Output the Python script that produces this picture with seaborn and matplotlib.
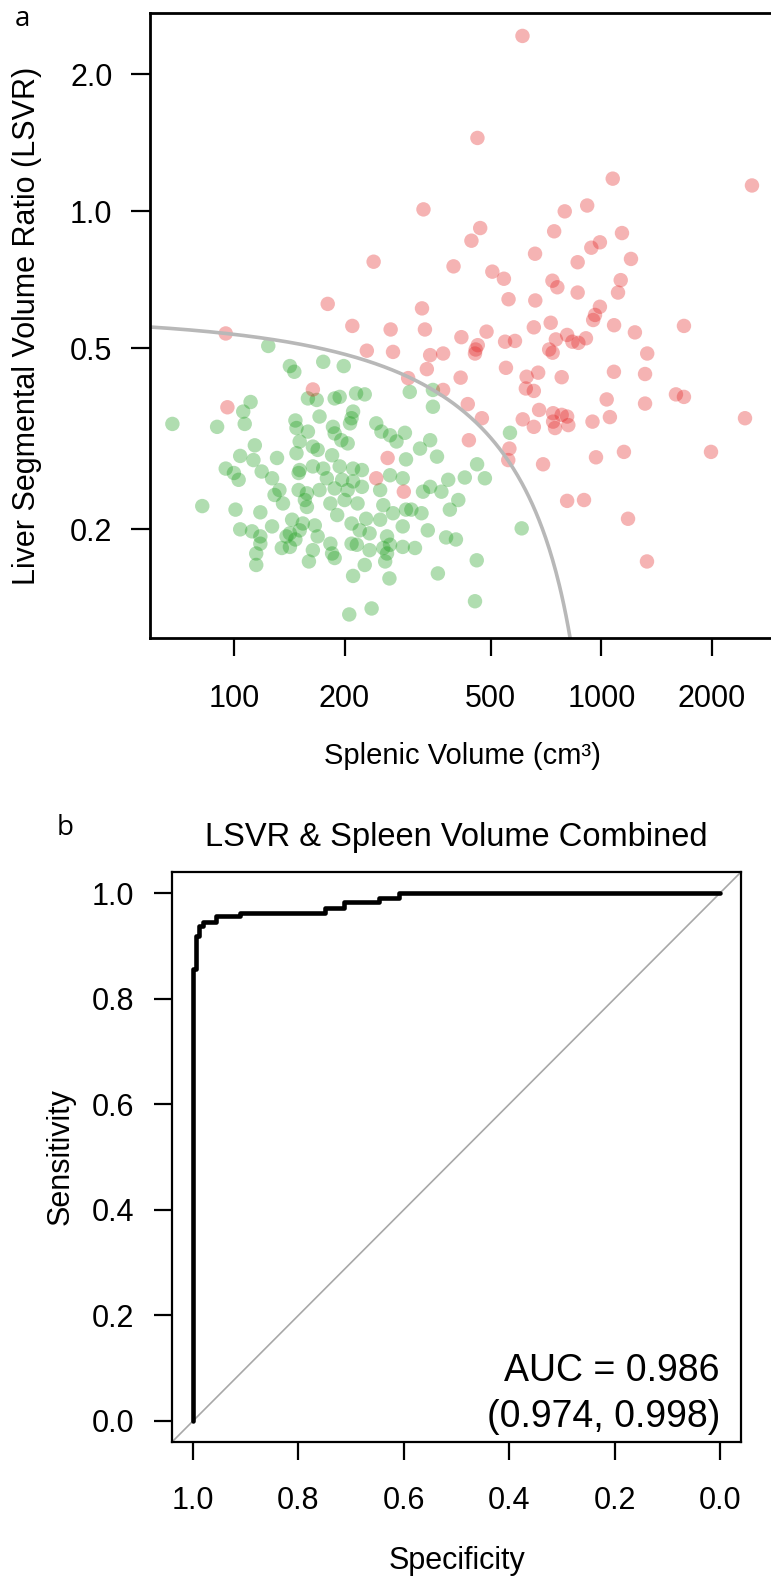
import numpy as np
import pandas as pd
import seaborn as sns
import matplotlib.pyplot as plt

# ---- panel a: splenic volume (cm3) vs LSVR ----
red_sv = [610, 460, 1074, 2570, 328, 915, 795, 468, 744, 1138, 443, 991, 939, 660, 1204,
          240, 396, 862, 505, 543, 736, 759, 1129, 1110, 862, 559, 661, 180, 325, 991,
          961, 950, 267, 331, 655, 728, 1083, 1234, 1678, 416, 487, 461, 453, 455, 547,
          582, 752, 807, 834, 866, 908, 721, 737, 210, 271, 230, 342, 371, 335, 1333,
          550, 626, 673, 780, 1082, 1315, 414, 298, 371, 623, 655, 1034, 1315, 1596, 1678,
          433, 677, 739, 780, 807, 739, 813, 748, 2460, 473, 611, 655, 946, 1055, 436,
          562, 558, 694, 967, 1152, 1988, 290, 807, 897, 1182, 1331, 95, 96, 164, 262, 244]
red_lsvr = [2.43, 1.45, 1.18, 1.14, 1.01, 1.03, 1.00, 0.919, 0.904, 0.896, 0.862, 0.855, 0.832, 0.807, 0.786,
            0.775, 0.757, 0.773, 0.737, 0.711, 0.704, 0.681, 0.706, 0.663, 0.663, 0.641, 0.637, 0.626, 0.612, 0.617,
            0.592, 0.577, 0.550, 0.550, 0.556, 0.569, 0.562, 0.542, 0.560, 0.529, 0.544, 0.508, 0.487, 0.497, 0.517,
            0.519, 0.523, 0.535, 0.517, 0.514, 0.526, 0.497, 0.489, 0.560, 0.491, 0.494, 0.483, 0.487, 0.450, 0.487,
            0.453, 0.433, 0.442, 0.432, 0.444, 0.439, 0.431, 0.430, 0.405, 0.408, 0.403, 0.386, 0.378, 0.396, 0.391,
            0.377, 0.366, 0.360, 0.357, 0.354, 0.345, 0.339, 0.334, 0.351, 0.351, 0.349, 0.336, 0.345, 0.353, 0.314,
            0.301, 0.284, 0.278, 0.288, 0.296, 0.296, 0.242, 0.231, 0.232, 0.211, 0.170, 0.539, 0.371, 0.406, 0.287, 0.259]

green_sv = [111, 106, 107, 90, 114, 104, 113, 131, 95, 100, 103, 119, 127, 133, 129,
            136, 82, 101, 118, 104, 112, 127, 118, 118, 115, 115, 135,
            124, 142, 146, 175, 199, 68, 142, 147, 154, 160, 188, 227, 258, 211,
            265, 206, 237, 216, 255, 288, 288, 159, 168, 148, 150, 156, 158, 166, 294, 211,
            188, 194, 215, 227, 211, 209, 207, 171, 147, 244, 186, 188, 159, 252, 266,
            292, 196, 204, 151, 164, 169, 277, 148, 185, 294, 151, 164, 175, 194, 211,
            223, 266, 288, 179, 197, 150, 158, 171, 188, 204, 223, 250, 183, 200, 217,
            255, 144, 191, 209, 229, 250, 271, 151, 169, 220, 234, 261, 139, 183, 209,
            266, 142, 164, 185, 234, 261,
            301, 348, 348, 564, 342, 321, 357, 459, 425, 482, 383, 342, 327, 367, 408,
            304, 324, 387, 337, 378, 402, 311, 607, 458, 359, 453]
green_lsvr = [0.381, 0.363, 0.341, 0.336, 0.306, 0.290, 0.284, 0.287, 0.272, 0.266, 0.257, 0.268, 0.259, 0.244, 0.238,
              0.228, 0.225, 0.221, 0.218, 0.200, 0.198, 0.203, 0.193, 0.186, 0.177, 0.167, 0.182,
              0.506, 0.457, 0.444, 0.467, 0.457, 0.341, 0.196, 0.190, 0.206, 0.170, 0.173, 0.167, 0.170, 0.158,
              0.156, 0.130, 0.134, 0.185, 0.182, 0.183, 0.203, 0.388, 0.385, 0.334, 0.266, 0.232, 0.224, 0.204, 0.221, 0.255,
              0.388, 0.391, 0.398, 0.396, 0.363, 0.351, 0.342, 0.354, 0.347, 0.342, 0.336, 0.325, 0.328, 0.328, 0.322,
              0.326, 0.314, 0.309, 0.312, 0.304, 0.299, 0.312, 0.294, 0.291, 0.285, 0.270, 0.275, 0.272, 0.275, 0.272,
              0.270, 0.263, 0.259, 0.259, 0.257, 0.244, 0.240, 0.244, 0.246, 0.244, 0.248, 0.244, 0.228, 0.232, 0.228,
              0.226, 0.210, 0.215, 0.206, 0.211, 0.210, 0.217, 0.199, 0.193, 0.199, 0.196, 0.193, 0.193, 0.186, 0.186,
              0.185, 0.183, 0.180, 0.177, 0.180, 0.177,
              0.401, 0.405, 0.372, 0.326, 0.314, 0.301, 0.289, 0.278, 0.260, 0.259, 0.257, 0.248, 0.242, 0.242, 0.232,
              0.221, 0.217, 0.221, 0.199, 0.192, 0.190, 0.182, 0.201, 0.171, 0.160, 0.139]

# decision boundary: LSVR = b0 - b1*SV - b2*SV^2
b0, b1, b2 = 0.5857, 4.80e-4, 1.119e-7

x_ticks = [100, 200, 500, 1000, 2000]
y_ticks = [0.2, 0.5, 1.0, 2.0]

# ---- panel b: ROC corners (specificity, sensitivity) ----
roc_spec = [1.0, 1.0, 0.995, 0.989, 0.982, 0.957, 0.910, 0.749, 0.714, 0.648, 0.610, 0.0]
roc_sens = [0.0, 0.856, 0.919, 0.938, 0.945, 0.957, 0.963, 0.972, 0.983, 0.991, 1.0, 1.0]
auc_text = "AUC = 0.986"
ci_text = "(0.974, 0.998)"
roc_ticks = [0.0, 0.2, 0.4, 0.6, 0.8, 1.0]

sns.set_style("ticks")
plt.rcParams["font.family"] = ["Liberation Sans", "DejaVu Sans"]
plt.rcParams.update({"text.color": "black", "axes.labelcolor": "black",
                     "xtick.color": "black", "ytick.color": "black",
                     "axes.edgecolor": "black"})

W, H = 771, 1579
fig = plt.figure(figsize=(W / 100, H / 100), dpi=100)

# panel a
ax1 = fig.add_axes([150 / W, 1 - 638 / H, 625 / W, 625 / H])
df = pd.concat([
    pd.DataFrame({"sv": green_sv, "lsvr": green_lsvr, "grp": "ctrl"}),
    pd.DataFrame({"sv": red_sv, "lsvr": red_lsvr, "grp": "case"}),
], ignore_index=True)
sns.scatterplot(data=df, x="sv", y="lsvr", hue="grp",
                palette={"ctrl": "#1a9c1a", "case": "#e32222"},
                alpha=0.34, s=108, linewidth=0, legend=False, ax=ax1)

sv_line = np.geomspace(50, 830, 400)
lsvr_line = b0 - b1 * sv_line - b2 * sv_line ** 2
sns.lineplot(x=sv_line, y=lsvr_line, color="#b8b8b8", lw=2.6, sort=False,
             estimator=None, ax=ax1)

ax1.set_xscale("log")
ax1.set_yscale("log")
ax1.set_xlim(59.1, 2969)
ax1.set_ylim(0.1154, 2.729)
ax1.xaxis.set_minor_locator(plt.NullLocator())
ax1.yaxis.set_minor_locator(plt.NullLocator())
ax1.set_xticks(x_ticks)
ax1.set_xticklabels([str(v) for v in x_ticks])
ax1.set_yticks(y_ticks)
ax1.set_yticklabels([f"{v:.1f}" for v in y_ticks])
ax1.tick_params(axis="x", direction="out", length=13, width=1.6, pad=20, labelsize=22)
ax1.tick_params(axis="y", direction="out", length=14, width=1.6, pad=13, labelsize=22)
ax1.set_xlabel("Splenic Volume (cm³)", fontsize=21, labelpad=20)
ax1.set_ylabel("Liver Segmental Volume Ratio (LSVR)", fontsize=22, labelpad=20)
for sp in ax1.spines.values():
    sp.set_linewidth(2.0)

# panel b
ax2 = fig.add_axes([172 / W, 1 - 1442 / H, 569 / W, 570 / H])
ax2.axline((1, 0), (0, 1), color="#a8a8a8", lw=1.2)
sns.lineplot(x=roc_spec, y=roc_sens, color="black", lw=3.3, sort=False,
             estimator=None, drawstyle="steps-post", ax=ax2)
ax2.set_xlim(1.04, -0.04)
ax2.set_ylim(-0.04, 1.04)
ax2.set_xticks(roc_ticks)
ax2.set_xticklabels([f"{v:.1f}" for v in roc_ticks])
ax2.set_yticks(roc_ticks)
ax2.set_yticklabels([f"{v:.1f}" for v in roc_ticks])
ax2.tick_params(axis="x", direction="out", length=13, width=1.6, pad=19, labelsize=22)
ax2.tick_params(axis="y", direction="out", length=13, width=1.6, pad=14, labelsize=22)
ax2.set_xlabel("Specificity", fontsize=22, labelpad=21)
ax2.set_ylabel("Sensitivity", fontsize=22, labelpad=12)
ax2.set_title("LSVR & Spleen Volume Combined", fontsize=23.5, pad=19)
ax2.text(0.0, 0.094, auc_text, ha="right", va="center", fontsize=27)
ax2.text(0.0, 0.008, ci_text, ha="right", va="center", fontsize=27)
for sp in ax2.spines.values():
    sp.set_linewidth(1.6)

fig.text(22 / W, 1 - 19 / H, "a", fontsize=20, ha="center", va="center",
         family=["Open Sans", "DejaVu Sans"])
fig.text(65 / W, 1 - 828 / H, "b", fontsize=20, ha="center", va="center",
         family=["Open Sans", "DejaVu Sans"])

fig.savefig("out.png", dpi=100)
